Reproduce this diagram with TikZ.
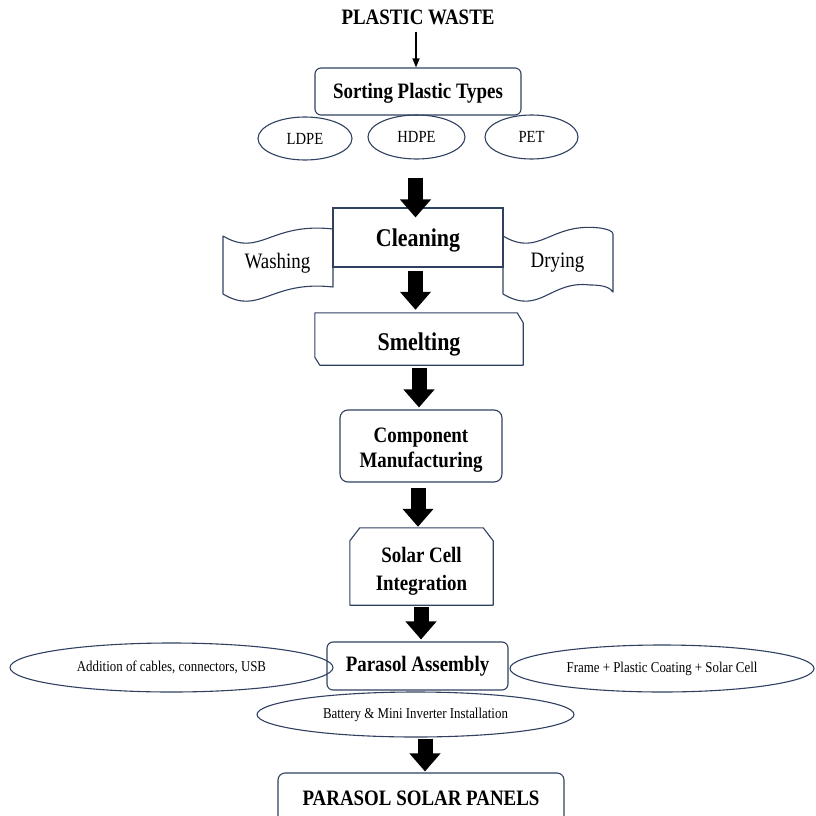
\documentclass[tikz,border=0pt]{standalone}
\usepackage{fontspec}
\setmainfont{Liberation Serif}[FakeStretch=0.86]
\usetikzlibrary{arrows.meta,shapes.geometric,calc}
\definecolor{edgec}{RGB}{47,64,96}
\newcommand{\lowered}[2]{\raisebox{-#1}[\height][\depth]{#2}}
\begin{document}
\begin{tikzpicture}[x=1pt,y=-1pt,
  box/.style={draw=edgec, line width=1.1pt, inner sep=0pt, align=center},
  rbox/.style={box, rounded corners=6pt},
  plain/.style={inner sep=0pt, align=center},
  ell/.style={ellipse, draw=edgec, line width=1.1pt, inner sep=0pt, align=center},
  outline/.style={draw=edgec, line width=1.1pt, line join=round},
  bigarrow/.style={line width=15pt, black, -{Triangle[width=30pt,length=18pt]}},
  thinarrow/.style={line width=1.3pt, black, -{Triangle[width=7pt,length=9pt]}},
  bf/.style={font=\bfseries\fontsize{22}{25}\selectfont},
  bftall/.style={font=\bfseries\fontsize{22}{28}\selectfont},
  bfbig/.style={font=\bfseries\fontsize{25.5}{28}\selectfont},
  rg/.style={font=\fontsize{22}{25}\selectfont},
  rgmid/.style={font=\fontsize{17}{20}\selectfont},
  rgsmall/.style={font=\fontsize{15}{18}\selectfont}]
\useasboundingbox (0,0) rectangle (815,816);
\clip (0,0) rectangle (815,816);

% top
\node[plain, bf, inner sep=2pt] (pw) at (418,17) {PLASTIC WASTE};
\node[rbox, bf, minimum width=206pt, minimum height=47pt] (sort) at (418,91.5) {\lowered{1.5pt}{Sorting Plastic Types}};
\node[ell, rgmid, minimum width=94pt, minimum height=43pt] (ldpe) at (305,138.5) {LDPE};
\node[ell, rgmid, minimum width=97pt, minimum height=44pt] (hdpe) at (416.5,137) {HDPE};
\node[ell, rgmid, minimum width=93pt, minimum height=44pt] (pet) at (531.5,137) {PET};

% cleaning
\node[box, bfbig, minimum width=170pt, minimum height=59pt] (clean) at (418,237.5) {\lowered{3pt}{Cleaning}};
\draw[outline] (223,236) .. controls (260,258) and (270,222) .. (333,229)
  -- (333,287) .. controls (270,280) and (260,316) .. (223,294) -- cycle;
\node[plain, rg] (wash) at (277.5,263) {Washing};
\draw[outline] (503,236) .. controls (540,258) and (550,222) .. (600,228)
  .. controls (607,229) and (613,231) .. (613,234)
  -- (613,292) .. controls (610,288) and (605,285) .. (590,285)
  .. controls (550,280) and (540,316) .. (503,294) -- cycle;
\node[plain, rg] (dry) at (557.5,263) {Drying};

% smelting
\node[plain, bfbig, minimum width=208pt, minimum height=52pt] (smelt) at (419,339) {\lowered{5pt}{Smelting}};
\draw[outline] (smelt.north west) -- ([xshift=-6pt]smelt.north east)
  -- ([yshift=-10pt]smelt.north east) -- (smelt.south east)
  -- ([xshift=5pt]smelt.south west) -- ([yshift=8pt]smelt.south west) -- cycle;

% component manufacturing
\node[box, bf, rounded corners=8pt, minimum width=162pt, minimum height=72pt] (comp) at (421,446) {\lowered{3.5pt}{\begin{tabular}{@{}c@{}}Component\\Manufacturing\end{tabular}}};

% solar cell integration
\node[plain, bftall, minimum width=143pt, minimum height=77pt] (solar) at (421.5,566.5) {\lowered{4.5pt}{\begin{tabular}{@{}c@{}}Solar Cell\\Integration\end{tabular}}};
\draw[outline] ([xshift=10pt]solar.north west) -- ([xshift=-10pt]solar.north east)
  -- ([yshift=-13pt]solar.north east) -- (solar.south east)
  -- (solar.south west) -- ([yshift=-13pt]solar.north west) -- cycle;

% parasol assembly
\node[rbox, bf, minimum width=181pt, minimum height=48pt] (para) at (417.5,666) {Parasol Assembly};
\node[ell, rgsmall, minimum width=323pt, minimum height=49pt] (cables) at (171.5,667.5) {Addition of cables, connectors, USB};
\node[ell, rgsmall, minimum width=304pt, minimum height=47pt] (frame) at (662,668.5) {Frame + Plastic Coating + Solar Cell};
\node[ell, rgsmall, minimum width=317pt, minimum height=45pt] (batt) at (415.5,714.5) {Battery \& Mini Inverter Installation};

% final
\node[box, bf, rounded corners=7pt, minimum width=286pt, minimum height=50pt] (final) at (421,798) {PARASOL SOLAR PANELS};

% arrows
\draw[thinarrow] ($(pw.south)+(-2,5)$) -- ($(pw.south |- sort.north)+(-2,0)$);
\draw[bigarrow] ($(hdpe.south)+(-1,18)$) -- ($(hdpe.south |- clean.north)+(-1,10)$);
\draw[bigarrow] ($(clean.south)+(-2.5,3)$) -- ($(clean.south |- smelt.north)+(-2.5,-3)$);
\draw[bigarrow] ($(smelt.south)+(0,3)$) -- ($(smelt.south |- comp.north)+(0,-2)$);
\draw[bigarrow] ($(comp.south)+(-3,5)$) -- ($(comp.south |- solar.north)+(-3,-1)$);
\draw[bigarrow] ($(solar.south)+(-0.5,2)$) -- ($(solar.south |- para.north)+(-0.5,-2)$);
\draw[bigarrow] ($(batt.south)+(9.5,1)$) -- ($(batt.south |- final.north)+(9.5,-1)$);
\end{tikzpicture}
\end{document}
